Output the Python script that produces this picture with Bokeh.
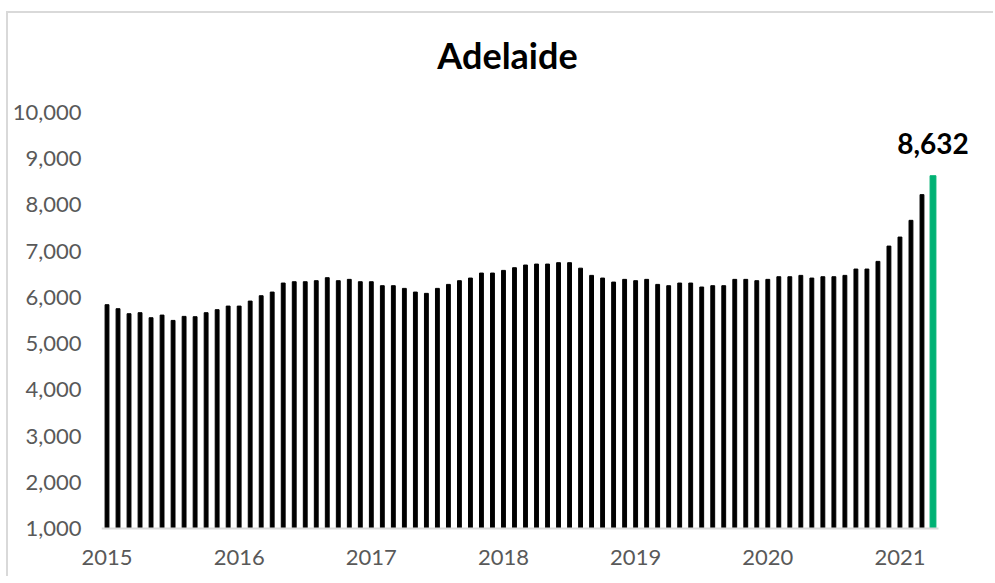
from bokeh.plotting import figure
from bokeh.models import FixedTicker, NumeralTickFormatter, Range1d
from bokeh.core.properties import value
from bokeh.embed import file_html
from bokeh.resources import INLINE

# Monthly values, Jan 2015 - Apr 2021
listings = [
    5842, 5755, 5647, 5669, 5560, 5617, 5502, 5589, 5582, 5669, 5734, 5812,
    5812, 5920, 6036, 6115, 6310, 6339, 6339, 6361, 6426, 6361, 6390, 6339,
    6339, 6253, 6253, 6195, 6115, 6087, 6195, 6281, 6361, 6418, 6526, 6526,
    6584, 6642, 6700, 6721, 6721, 6751, 6751, 6632, 6476, 6418, 6331, 6390,
    6361, 6390, 6281, 6253, 6310, 6310, 6224, 6253, 6253, 6390, 6390, 6361,
    6390, 6447, 6447, 6476, 6418, 6447, 6447, 6476, 6613, 6613, 6779, 7110,
    7305, 7667, 8223, 8632,
]
years = ["2015", "2016", "2017", "2018", "2019", "2020", "2021"]
title_text = "Adelaide"
y_min, y_max = 1000, 10000

n = len(listings)
idx = list(range(n))
last_label = f"{listings[-1]:,}"

FONT = "Lato"

# layout in canvas pixels
W, H = 987, 565
left, top, right, bottom = 93, 10, 965, 517
y_top_px, y_base_px = 99, 515          # canvas rows of y_max and y_min
cat_px = 837 / n                       # pixels per month
uy = (y_max - y_min) / (y_base_px - y_top_px)
ux = 1 / cat_px

y_start = y_min - (bottom - y_base_px) * uy
y_end = y_max + (y_top_px - top) * uy
x_start = -0.5
x_end = -0.5 + (right - left) * ux

p = figure(
    width=W, height=H,
    output_backend="svg", toolbar_location=None,
    x_range=Range1d(x_start, x_end), y_range=Range1d(y_start, y_end),
    min_border_left=left, min_border_right=W - right,
    min_border_top=top, min_border_bottom=H - bottom,
)
# chart-area border (only top and left edges are inside the window)
p.styles = {
    "margin-left": "8px", "margin-top": "13px",
    "box-shadow": "-2px -2px 0 0 #D9D9D9",
}
p.outline_line_color = None
p.background_fill_color = "white"
p.border_fill_color = "white"
p.xgrid.visible = False
p.ygrid.visible = False

# black bars (all but last), green highlight for latest
p.vbar(x=idx[:-1], top=listings[:-1], bottom=y_min, width=0.35, color="black")
p.vbar(x=idx[-1:], top=listings[-1:], bottom=y_min, width=0.53, color="#00B274")

# category axis baseline
p.segment(x0=[-0.5], y0=[y_min], x1=[n - 0.5], y1=[y_min], line_color="#D9D9D9", line_width=2)

# data label for latest value
p.text(x=idx[-1:], y=[listings[-1] + 32 * uy], text=[last_label], text_align="center",
       text_baseline="alphabetic", text_font=value(FONT),
       text_font_style="bold", text_font_size="28px", text_color="black")

# chart title
title_x = (499 - left) * ux - 0.5
title_y = y_max + 58 * uy
p.text(x=[title_x], y=[title_y], text=[title_text], text_align="center",
       text_baseline="alphabetic", text_font=value(FONT), text_font_style="bold",
       text_font_size="36px", text_color="black")

# y axis
ya = p.yaxis[0]
ya.ticker = FixedTicker(ticks=list(range(y_min, y_max + 1, 1000)))
ya.formatter = NumeralTickFormatter(format="0,0")
ya.axis_line_color = None
ya.major_tick_line_color = None
ya.minor_tick_line_color = None
ya.major_label_standoff = 14
ya.major_label_text_font = FONT
ya.major_label_text_font_size = "22px"
ya.major_label_text_color = "#595959"

# x axis
xa = p.xaxis[0]
xa.ticker = FixedTicker(ticks=[12 * i for i in range(len(years))])
xa.major_label_overrides = {12 * i: y for i, y in enumerate(years)}
xa.axis_line_color = None
xa.major_tick_line_color = None
xa.minor_tick_line_color = None
xa.major_label_standoff = 13
xa.major_label_text_font = FONT
xa.major_label_text_font_size = "22px"
xa.major_label_text_color = "#595959"

open("out.html", "w").write(file_html(p, INLINE))
